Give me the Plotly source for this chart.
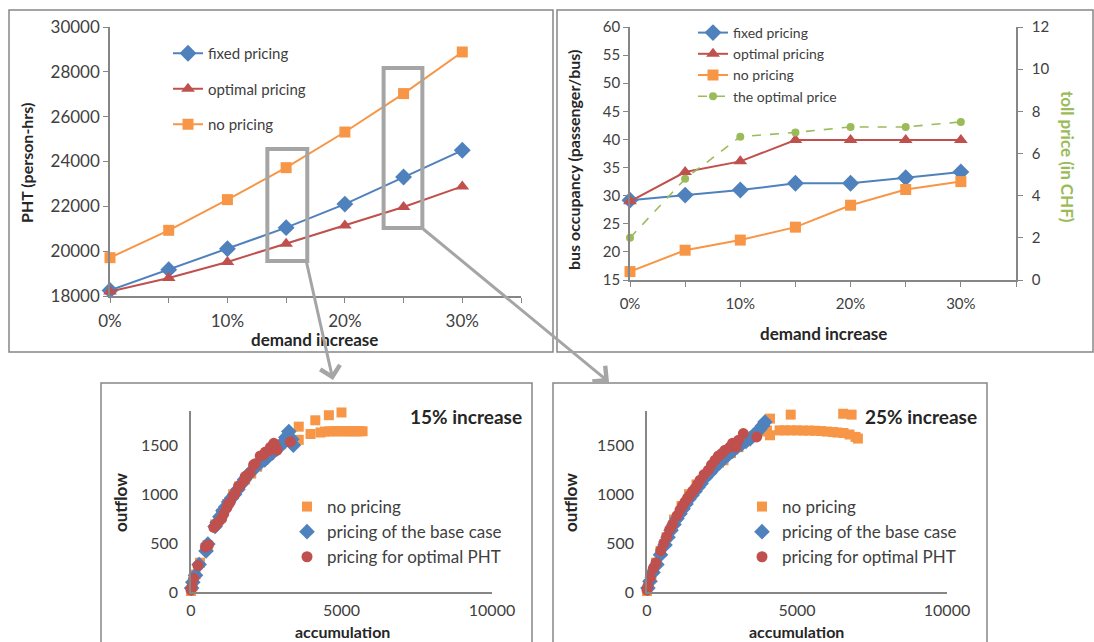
import plotly.graph_objects as go

W, H = 1094, 642
FONT = "Lato, 'Liberation Sans', sans-serif"
BLUE, RED, ORANGE, GREEN = "#4F81BD", "#C0504D", "#F79646", "#9BBB59"
AX = "#868686"
TXT = "#404040"

# ---------------- data ----------------
demand = [0, 5, 10, 15, 20, 25, 30]
pht_fixed = [18250, 19175, 20110, 21050, 22100, 23310, 24500]
pht_optimal = [18200, 18800, 19520, 20330, 21150, 21970, 22890]
pht_none = [19710, 20930, 22300, 23725, 25315, 27030, 28885]

occ_fixed = [29.2, 30.1, 31.0, 32.2, 32.2, 33.2, 34.2]
occ_optimal = [29.0, 34.2, 36.1, 39.9, 39.9, 39.9, 39.9]
occ_none = [16.5, 20.3, 22.1, 24.4, 28.3, 31.1, 32.5]
toll_price = [2.0, 4.8, 6.8, 7.0, 7.26, 7.26, 7.5]

# 15% increase scatter
none15_x = [0, 50, 150, 300, 550, 800, 1000, 1200, 1400, 1600, 1800, 2000, 2200, 2400, 2600, 2800, 3000, 3200,
            3580, 3580, 3970, 4130, 4300, 4450, 4580, 4600, 4750, 4850, 4960, 5000, 5100, 5200, 5300, 5400, 5500, 5600, 5700]
none15_y = [10, 60, 180, 300, 480, 690, 800, 900, 1000, 1080, 1150, 1210, 1280, 1350, 1400, 1460, 1510, 1560,
            1690, 1555, 1615, 1755, 1630, 1640, 1807, 1642, 1643, 1643, 1643, 1835, 1643, 1643, 1643, 1643, 1643, 1643, 1643]
base15_x = [0, 20, 60, 150, 270, 500, 560, 800, 870, 960, 1060, 1150, 1250, 1350, 1450, 1560, 1660, 1780, 1900,
            2000, 2150, 2300, 2450, 2550, 2700, 2850, 2950, 3050, 3150, 3250, 3350, 3400]
base15_y = [-10, 40, 100, 170, 280, 420, 490, 670, 710, 770, 830, 870, 920, 960, 1000, 1050, 1100, 1150, 1200,
            1230, 1280, 1320, 1350, 1380, 1420, 1460, 1490, 1520, 1580, 1640, 1560, 1500]
opt15_x = [0, 30, 90, 230, 480, 580, 760, 830, 920, 1020, 1090, 1190, 1250, 1300, 1420, 1460, 1580, 1630, 1790,
           1800, 1960, 2080, 2130, 2300, 2400, 2470, 2620, 2640, 2750, 2790, 2860, 3300]
opt15_y = [20, 50, 140, 270, 460, 480, 660, 690, 720, 750, 800, 860, 900, 920, 990, 1005, 1080, 1085, 1150,
           1180, 1215, 1300, 1310, 1390, 1400, 1430, 1450, 1480, 1520, 1500, 1450, 1535]

# 25% increase scatter
none25_x = [0, 60, 150, 300, 450, 650, 900, 1150, 1400, 1650, 1900, 2150, 2400, 2550, 2800, 3050, 3300, 3550,
            3800, 4000, 4100, 4100, 4420, 4600, 4790, 4800, 5000, 5200, 5400, 5600, 5800, 6000, 6200, 6350, 6540,
            6550, 6750, 6820, 6950, 7030]
none25_y = [10, 80, 180, 300, 420, 560, 740, 880, 1000, 1100, 1180, 1260, 1320, 1346, 1420, 1480, 1540, 1590,
            1640, 1650, 1772, 1602, 1652, 1652, 1813, 1652, 1652, 1650, 1650, 1648, 1645, 1640, 1635, 1630, 1822,
            1625, 1610, 1813, 1585, 1568]
base25_x = [0, 30, 100, 200, 330, 450, 600, 700, 800, 900, 1000, 1100, 1200, 1300, 1400, 1500, 1600, 1700, 1800,
            1950, 2100, 2250, 2400, 2550, 2700, 2850, 3000, 3150, 3300, 3450, 3550, 3650, 3750, 3850, 3930]
base25_y = [-10, 40, 110, 200, 280, 380, 480, 560, 630, 690, 750, 800, 850, 900, 950, 990, 1030, 1070, 1110,
            1170, 1220, 1270, 1320, 1360, 1400, 1440, 1480, 1510, 1540, 1570, 1600, 1630, 1660, 1700, 1737]
opt25_x = [0, 30, 110, 210, 300, 456, 560, 656, 760, 856, 1000, 1100, 1180, 1267, 1350, 1433, 1520, 1600, 1680,
           1767, 1900, 2044, 2150, 2267, 2380, 2489, 2600, 2767, 2850, 2967, 3050, 3211, 3656]
opt25_y = [20, 60, 150, 241, 300, 422, 500, 565, 640, 694, 780, 837, 880, 922, 960, 990, 1030, 1058, 1100, 1143,
           1200, 1245, 1300, 1347, 1390, 1415, 1450, 1483, 1520, 1483, 1550, 1619, 1585]


def fx(p):
    return p / W


def fy(p):
    return 1 - p / H


fig = go.Figure()

# top-left
fig.add_trace(go.Scatter(x=demand, y=pht_fixed, name="fixed pricing", mode="lines+markers",
                         line=dict(color=BLUE, width=2), marker=dict(symbol="diamond", size=13, color=BLUE),
                         xaxis="x", yaxis="y", legend="legend", legendgroup="g1", cliponaxis=False))
fig.add_trace(go.Scatter(x=demand, y=pht_optimal, name="optimal pricing", mode="lines+markers",
                         line=dict(color=RED, width=2), marker=dict(symbol="triangle-up", size=12, color=RED),
                         xaxis="x", yaxis="y", legend="legend", legendgroup="g2", cliponaxis=False))
fig.add_trace(go.Scatter(x=demand, y=pht_none, name="no pricing", mode="lines+markers",
                         line=dict(color=ORANGE, width=2), marker=dict(symbol="square", size=11, color=ORANGE),
                         xaxis="x", yaxis="y", legend="legend", legendgroup="g3", cliponaxis=False))

# top-right
fig.add_trace(go.Scatter(x=demand, y=occ_fixed, name="fixed pricing", mode="lines+markers",
                         line=dict(color=BLUE, width=2), marker=dict(symbol="diamond", size=13, color=BLUE),
                         xaxis="x2", yaxis="y2", legend="legend2", cliponaxis=False))
fig.add_trace(go.Scatter(x=demand, y=occ_optimal, name="optimal pricing", mode="lines+markers",
                         line=dict(color=RED, width=2), marker=dict(symbol="triangle-up", size=12, color=RED),
                         xaxis="x2", yaxis="y2", legend="legend2", cliponaxis=False))
fig.add_trace(go.Scatter(x=demand, y=occ_none, name="no pricing", mode="lines+markers",
                         line=dict(color=ORANGE, width=2), marker=dict(symbol="square", size=11, color=ORANGE),
                         xaxis="x2", yaxis="y2", legend="legend2", cliponaxis=False))
fig.add_trace(go.Scatter(x=demand, y=toll_price, name="the optimal price", mode="lines+markers",
                         line=dict(color=GREEN, width=1.6, dash="dash"), marker=dict(symbol="circle", size=8, color=GREEN),
                         xaxis="x2", yaxis="y3", legend="legend2", cliponaxis=False))

# bottom scatters
for xs, ys, nm, sym, sz, col, xa, ya, lg in [
    (none15_x, none15_y, "no pricing", "square", 10, ORANGE, "x4", "y4", "legend3"),
    (base15_x, base15_y, "pricing of the base case", "diamond", 12, BLUE, "x4", "y4", "legend3"),
    (opt15_x, opt15_y, "pricing for optimal PHT", "circle", 11, RED, "x4", "y4", "legend3"),
    (none25_x, none25_y, "no pricing", "square", 10, ORANGE, "x5", "y5", "legend4"),
    (base25_x, base25_y, "pricing of the base case", "diamond", 12, BLUE, "x5", "y5", "legend4"),
    (opt25_x, opt25_y, "pricing for optimal PHT", "circle", 11, RED, "x5", "y5", "legend4"),
]:
    fig.add_trace(go.Scatter(x=xs, y=ys, name=nm, mode="markers",
                             marker=dict(symbol=sym, size=sz, color=col, line=dict(width=0)),
                             xaxis=xa, yaxis=ya, legend=lg, cliponaxis=False))

base_axis = dict(showgrid=False, zeroline=False, showline=True, linecolor=AX, linewidth=1.5, automargin=False,
                 tickfont=dict(family=FONT, size=17, color=TXT), tickcolor=AX)

xcat = dict(base_axis, range=[0, 35], tick0=0, dtick=10, ticksuffix="%", ticks="outside", ticklen=5,
            minor=dict(dtick=5, tick0=0, ticks="outside", ticklen=5, tickcolor=AX), ticklabelstandoff=4)

layout = dict(
    width=W, height=H, autosize=False, margin=dict(l=0, r=0, t=0, b=0, pad=0, autoexpand=False),
    paper_bgcolor="white", plot_bgcolor="white", font=dict(family=FONT, color=TXT),
    xaxis=dict(xcat, domain=[fx(110), fx(521)], anchor="y"),
    yaxis=dict(base_axis, domain=[fy(296), fy(27)], range=[18000, 30000], dtick=2000, tickformat="d",
               ticks="outside", ticklen=5, anchor="x"),
    xaxis2=dict(xcat, domain=[fx(630), fx(1016)], anchor="y2", tickfont=dict(family=FONT, size=15, color=TXT)),
    yaxis2=dict(base_axis, domain=[fy(280), fy(27)], range=[15, 60], dtick=5, ticks="outside", ticklen=5,
                anchor="x2", tickfont=dict(family=FONT, size=15, color=TXT)),
    yaxis3=dict(base_axis, range=[0, 12], dtick=2, ticks="outside", ticklen=5, overlaying="y2", side="right",
                anchor="x2", tickfont=dict(family=FONT, size=15, color=TXT), ticklabelstandoff=6),
    xaxis4=dict(base_axis, domain=[fx(191), fx(492)], range=[0, 10000], dtick=5000, tickformat="d", anchor="y4",
                ticklabelstandoff=3, tickfont=dict(family=FONT, size=16, color=TXT)),
    yaxis4=dict(base_axis, domain=[fy(592), fy(411)], range=[0, 1850], tickvals=[0, 500, 1000, 1500],
                anchor="x4", ticklabelstandoff=8, tickfont=dict(family=FONT, size=16, color=TXT)),
    xaxis5=dict(base_axis, domain=[fx(647), fx(947)], range=[0, 10000], dtick=5000, tickformat="d", anchor="y5",
                ticklabelstandoff=3, tickfont=dict(family=FONT, size=16, color=TXT)),
    yaxis5=dict(base_axis, domain=[fy(592), fy(411)], range=[0, 1850], tickvals=[0, 500, 1000, 1500],
                anchor="x5", ticklabelstandoff=8, tickfont=dict(family=FONT, size=16, color=TXT)),
    legend=dict(x=fx(168), y=fy(37), xanchor="left", yanchor="top", bgcolor="rgba(0,0,0,0)",
                font=dict(family=FONT, size=15, color=TXT), tracegroupgap=13),
    legend2=dict(x=fx(693), y=fy(17), xanchor="left", yanchor="top", bgcolor="rgba(0,0,0,0)",
                 font=dict(family=FONT, size=14, color=TXT)),
    legend3=dict(x=fx(287), y=fy(489), xanchor="left", yanchor="top", bgcolor="rgba(0,0,0,0)",
                 font=dict(family=FONT, size=17, color=TXT)),
    legend4=dict(x=fx(742), y=fy(489), xanchor="left", yanchor="top", bgcolor="rgba(0,0,0,0)",
                 font=dict(family=FONT, size=17, color=TXT)),
)
fig.update_layout(**layout)

# panel borders
shapes = []
for x0, y0, x1, y1 in [(9, 10, 553, 352), (557, 10, 1093, 352), (101, 383, 532, 650), (553, 383, 987, 650)]:
    shapes.append(dict(type="rect", xref="paper", yref="paper", x0=fx(x0), x1=fx(x1), y0=fy(y1), y1=fy(y0),
                       line=dict(color=AX, width=1.5), fillcolor="rgba(0,0,0,0)", layer="below"))
# highlight rectangles (data coordinates of the top-left chart)
for x0, x1, y0, y1 in [(13.4, 16.8, 19560, 24560), (23.3, 26.6, 21030, 28170)]:
    shapes.append(dict(type="rect", xref="x", yref="y", x0=x0, x1=x1, y0=y0, y1=y1,
                       line=dict(color="#A5A5A5", width=4), fillcolor="rgba(0,0,0,0)", layer="above"))
fig.update_layout(shapes=shapes)

ann = []
def title(text, px, py, size=17, angle=0, color="#262626"):
    ann.append(dict(text=f"<b>{text}</b>", x=fx(px), y=fy(py), xref="paper", yref="paper", showarrow=False,
                    xanchor="center", yanchor="middle", textangle=angle,
                    font=dict(family=FONT, size=size, color=color)))

title("PHT (person-hrs)", 27, 163, 16, -90)
title("demand increase", 314, 339, 17)
title("bus occupancy (passenger/bus)", 573, 160, 16, -90)
title("demand increase", 823, 334, 17)
title("toll price (in CHF)", 1067, 157, 17, 90, GREEN)
title("outflow", 120, 503, 17, -90)
title("accumulation", 342, 631, 16)
title("outflow", 570, 503, 17, -90)
title("accumulation", 797, 631, 16)
ann.append(dict(text="<b>15% increase</b>", x=fx(524), y=fy(416), xref="paper", yref="paper", showarrow=False,
                xanchor="right", yanchor="middle", font=dict(family=FONT, size=19, color="#262626")))
ann.append(dict(text="<b>25% increase</b>", x=fx(979), y=fy(416), xref="paper", yref="paper", showarrow=False,
                xanchor="right", yanchor="middle", font=dict(family=FONT, size=19, color="#262626")))

# zoom arrows
for hx, hy, tx, ty in [(333, 380, 306, 260), (609, 382, 422, 228)]:
    ann.append(dict(text="", x=fx(hx), y=fy(hy), xref="paper", yref="paper", showarrow=True,
                    ax=tx - hx, ay=ty - hy, axref="pixel", ayref="pixel", arrowhead=4, arrowsize=1.3,
                    arrowwidth=3, arrowcolor="#A5A5A5"))
fig.update_layout(annotations=ann)

fig.write_html("out.html", config={"displayModeBar": False},
               post_script="document.body.style.margin='0px';document.body.style.overflow='hidden';")
